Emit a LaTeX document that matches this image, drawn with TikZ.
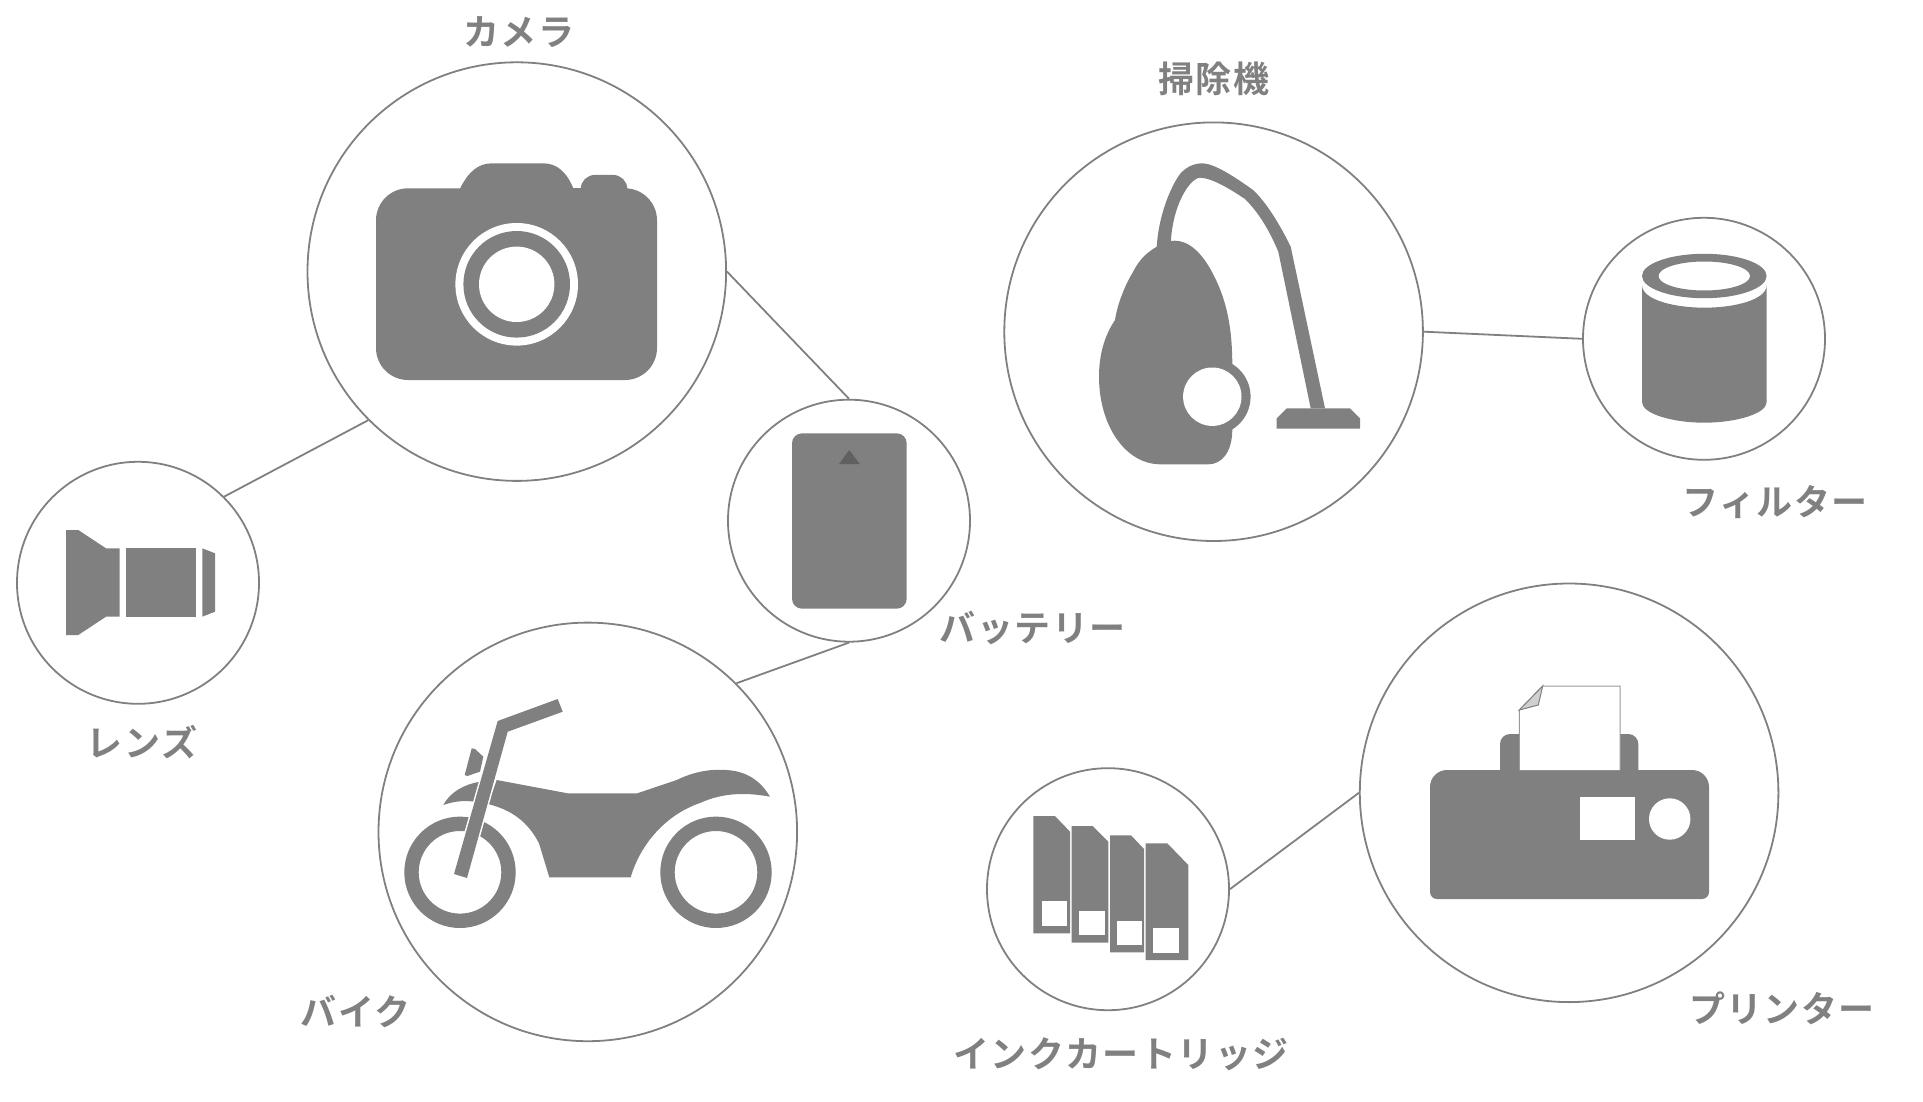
\documentclass[tikz,border=0pt]{standalone}
\usepackage{fontspec}
\newfontfamily\jpfont[LetterSpace=4,BoldFont={Noto Sans CJK JP Bold}]{Noto Sans CJK JP}
\definecolor{icongray}{RGB}{128,128,128}
\definecolor{darkmark}{RGB}{96,96,96}
\definecolor{foldgray}{RGB}{208,208,208}
\usetikzlibrary{positioning}
\tikzset{
  bigitem/.style={circle,draw=icongray,line width=0.9pt,inner sep=0pt,minimum size=209.3pt},
  smallitem/.style={circle,draw=icongray,line width=0.9pt,inner sep=0pt,minimum size=121pt},
  link/.style={icongray,line width=0.9pt},
  itemlabel/.style={font=\jpfont\bfseries\fontsize{18}{20}\selectfont,text=icongray,inner sep=0pt},
  iconfill/.style={fill=icongray,draw=none},
  holefill/.style={fill=white,draw=none}
}
\begin{document}
\begin{tikzpicture}[x=0.5pt,y=-0.5pt]
  \useasboundingbox (0,0) rectangle (1923,1102);
  % circles
  \node[bigitem] (camera) at (516.8,271.6) {};
  \node[smallitem] (lens) at (138,582.8) {};
  \node[smallitem] (battery) at (849,520.7) {};
  \node[bigitem] (bike) at (587.8,831.9) {};
  \node[bigitem] (vacuum) at (1213.6,331.7) {};
  \node[smallitem] (filter) at (1704,338.8) {};
  \node[bigitem] (printer) at (1569.1,792.8) {};
  \node[smallitem] (ink) at (1108,889.2) {};
  % links
  \draw[link] (camera.225) -- (lens.45);
  \draw[link] (camera.0) -- (battery.90);
  \draw[link] (battery.270) -- (bike.45);
  \draw[link] (vacuum.0) -- (filter.180);
  \draw[link] (ink.0) -- (printer.180);
  % labels
  \node[itemlabel] (cameralabel) at (519,32) {カメラ};
  \node[itemlabel] (vacuumlabel) at (1214,78.5) {掃除機};
  \node[itemlabel] (filterlabel) at (1775,501.6) {フィルター};
  \node[itemlabel] (batterylabel) at (1032.6,627.5) {バッテリー};
  \node[itemlabel] (lenslabel) at (142,742) {レンズ};
  \node[itemlabel] (bikelabel) at (355.7,1011.7) {バイク};
  \node[itemlabel] (inklabel) at (1121,1054.5) {インクカートリッジ};
  \node[itemlabel] (printerlabel) at (1782,1008) {プリンター};
  % camera
  \fill[iconfill,rounded corners=16pt] (376,188.3) rectangle (657,380);
  \fill[iconfill] (459.3,190) .. controls (468,172) and (478,163.3) .. (492,163.3) -- (543,163.3)
    .. controls (557,163.3) and (567,172) .. (574,190) -- cycle;
  \fill[iconfill] (570,188.3) rectangle (590,195);
  \fill[iconfill,rounded corners=7pt] (580.7,205) rectangle (627.3,175);
  \fill[holefill] (516.7,284.3) circle (61.3);
  \fill[iconfill] (516.7,284.3) circle (53.3);
  \fill[holefill] (516.7,284.3) circle (37.7);
  % lens
  \fill[iconfill] (66,530) -- (78.3,530) -- (106,548.3) -- (119.7,548.3) -- (119.7,616.7)
    -- (106,616.7) -- (78.3,635) -- (66,635) -- cycle;
  \fill[iconfill] (126,548.3) rectangle (195.7,616.7);
  \fill[iconfill] (202.3,548.3) -- (215,553.3) -- (215,611.7) -- (202.3,616.7) -- cycle;
  % battery
  \fill[iconfill,rounded corners=5pt] (792,433.3) rectangle (906.7,608.7);
  \fill[darkmark] (849.3,450) -- (859.7,464) -- (839,464) -- cycle;
  % bike
  \fill[iconfill,even odd rule] (716,872.3) circle (55.7) (716,872.3) circle (41.3);
  \fill[iconfill,even odd rule] (460,872.3) circle (55.7) (460,872.3) circle (41.3);
  \fill[iconfill] (496.7,780) -- (567.7,793.3) -- (637.3,793.3) -- (676.7,780)
    .. controls (695,771) and (712,769) .. (726,770) .. controls (746,771) and (760,780) .. (770,796.7)
    .. controls (745,792) and (722,793) .. (700,803) .. controls (665,815) and (640,845) .. (630.7,877.3)
    -- (549.3,877.3) -- (539,843.3) .. controls (528,822) and (512,810) .. (488,804) -- cycle;
  \fill[iconfill] (443.3,805) .. controls (450,792) and (465,784) .. (480,781.7) -- (474.3,801.7)
    .. controls (462,800) and (452,802) .. (443.3,805) -- cycle;
  \fill[iconfill] (471.7,748.3) -- (475,749) -- (483.3,756.7) -- (480,771.7) -- (467.3,776) -- (464.7,775) -- cycle;
  \fill[iconfill,preaction={draw=white,line width=1.5pt}] (557.7,699) -- (562.7,711.7) -- (507.7,731.7)
    -- (467,878) -- (454,874) -- (497.7,721) -- cycle;
  % vacuum
  \fill[iconfill] (1156.7,246.7) .. controls (1162,242) and (1168,240.7) .. (1175,240.7)
    .. controls (1190,240.7) and (1203,255) .. (1212,272) .. controls (1226,298) and (1232,325) .. (1232.3,363.3)
    -- (1232.3,430) .. controls (1232,452) and (1222,464.3) .. (1208.3,464.3) -- (1160,464.3)
    .. controls (1125,464) and (1099,425) .. (1099,376.7) .. controls (1099,350) and (1107,332) .. (1115,320)
    .. controls (1118,300) and (1128,280) .. (1133,272) .. controls (1140,258) and (1148,252) .. (1156.7,246.7) -- cycle;
  \fill[iconfill] (1212.3,396.7) circle (38.3);
  \fill[holefill] (1212.3,396.7) circle (29.2);
  \fill[iconfill] (1156.7,250) .. controls (1157,225) and (1167,192) .. (1180,174) .. controls (1187,166) and (1195,163.3) .. (1203,163.3)
    .. controls (1215,164) and (1235,177) .. (1253,190) .. controls (1267,203) and (1280,225) .. (1290.7,246.7)
    -- (1325,408.3) -- (1310.7,408.3) -- (1278.3,251.7) .. controls (1270,232) and (1260,214) .. (1245,199)
    .. controls (1230,189) and (1212,178) .. (1200,177.7) .. controls (1190,178) and (1172,205) .. (1170.7,245) -- cycle;
  \fill[iconfill] (1286.7,408.3) -- (1350,408.3) -- (1360,418.3) -- (1360,428.7) -- (1276.7,428.7) -- (1276.7,418.3) -- cycle;
  % filter
  \fill[iconfill] (1642,285) .. controls (1642,300) and (1675,307.7) .. (1704.3,307.7)
    .. controls (1734,307.7) and (1766.7,300) .. (1766.7,285) -- (1766.7,402)
    .. controls (1766.7,414) and (1735,422.7) .. (1704.3,422.7) .. controls (1673,422.7) and (1642,414) .. (1642,402) -- cycle;
  \fill[iconfill,even odd rule] (1704.3,276) ellipse [x radius=62.3,y radius=22.2]
    (1704.3,276) ellipse [x radius=45.8,y radius=14.5];
  % printer
  \fill[iconfill,rounded corners=5pt] (1500,734) rectangle (1638.3,785);
  \fill[iconfill] (1430,840) [rounded corners=8.5pt] -- (1430,770) -- (1709,770) -- (1709,840)
    [rounded corners=3.5pt] -- (1709,899) -- (1430,899) -- cycle;
  \filldraw[fill=white,draw=icongray!80,line width=0.5pt] (1519.3,770) -- (1519.3,710) -- (1542.7,686) -- (1620,686) -- (1620,770);
  \filldraw[fill=foldgray,draw=icongray,line width=0.5pt] (1542.7,686) -- (1538.3,705) -- (1519.3,710) -- cycle;
  \fill[holefill] (1580,797.3) rectangle (1635,840);
  \fill[holefill] (1669.7,819) circle (20.7);
  % ink
  \fill[iconfill] (1033.3,816) -- (1055,816) -- (1070,831.7) -- (1070,933.3) -- (1033.3,933.3) -- cycle;
  \fill[holefill] (1041.7,901) rectangle (1066.7,925.7);
  \fill[iconfill] (1071.7,826) -- (1092.7,826) -- (1108.3,841.7) -- (1108.3,942.7) -- (1071.7,942.7) -- cycle;
  \fill[holefill] (1079.3,910.7) rectangle (1105,935);
  \fill[iconfill] (1110,835.3) -- (1131,835.3) -- (1144,849) -- (1144,952.3) -- (1110,952.3) -- cycle;
  \fill[holefill] (1117.3,920.7) rectangle (1142.3,945.3);
  \fill[iconfill] (1145.7,843.3) -- (1167.3,843.3) -- (1188.3,865) -- (1188.3,960) -- (1145.7,960) -- cycle;
  \fill[holefill] (1153.3,928.3) rectangle (1179,953.3);
\end{tikzpicture}
\end{document}
